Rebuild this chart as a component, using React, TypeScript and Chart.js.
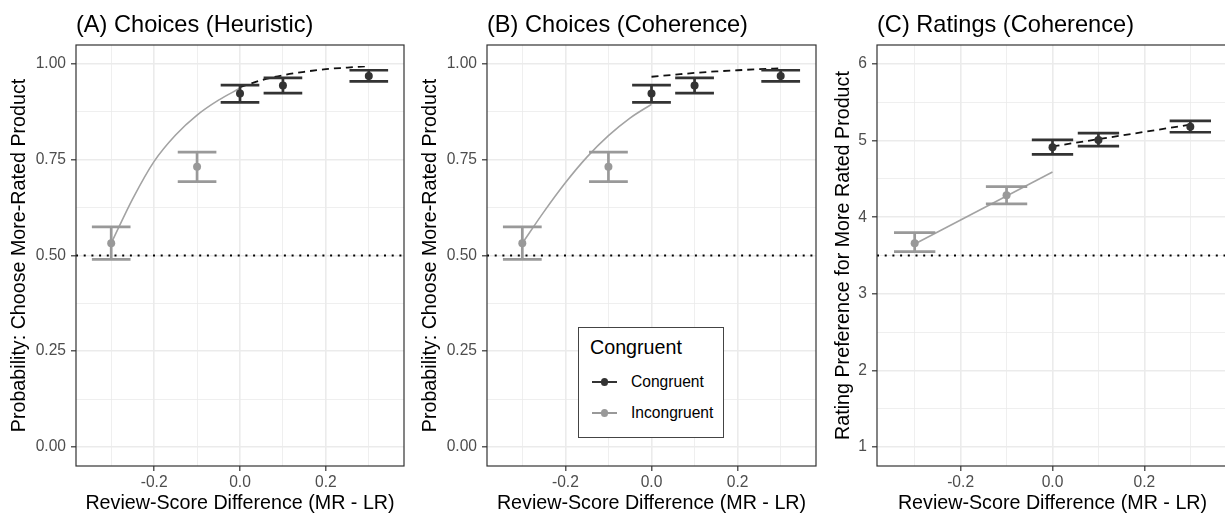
import React, { useEffect, useRef } from "react";
import { Chart, registerables } from "chart.js";
Chart.register(...registerables);

const FONT = "'Liberation Sans', Arial, Helvetica, sans-serif";

// ---------- axes ----------
const xMajorTicks = [-0.2, 0.0, 0.2];
const xMinorTicks = [-0.3, -0.1, 0.1, 0.3];
const xTickLabels = ["-0.2", "0.0", "0.2"];
const xLimits = [-0.382, 0.382];

const probMajorTicks = [0, 0.25, 0.5, 0.75, 1];
const probMinorTicks = [0.125, 0.375, 0.625, 0.875];
const probTickLabels = ["0.00", "0.25", "0.50", "0.75", "1.00"];
const probLimits = [-0.05, 1.05];
const probChance = 0.5;

const ratingMajorTicks = [1, 2, 3, 4, 5, 6];
const ratingMinorTicks = [1.5, 2.5, 3.5, 4.5, 5.5];
const ratingTickLabels = ["1", "2", "3", "4", "5", "6"];
const ratingLimits = [0.75, 6.25];
const ratingMidpoint = 3.5;

// ---------- observed means & intervals ----------
const incongruentX = [-0.3, -0.1];
const congruentX = [0.0, 0.1, 0.3];

const choiceIncMean = [0.532, 0.732];
const choiceIncLow = [0.49, 0.693];
const choiceIncHigh = [0.575, 0.77];
const choiceConMean = [0.923, 0.944, 0.969];
const choiceConLow = [0.9, 0.924, 0.955];
const choiceConHigh = [0.945, 0.964, 0.984];

const ratingIncMean = [3.66, 4.287];
const ratingIncLow = [3.55, 4.175];
const ratingIncHigh = [3.8, 4.4];
const ratingConMean = [4.914, 5.01, 5.183];
const ratingConLow = [4.82, 4.93, 5.11];
const ratingConHigh = [5.01, 5.1, 5.26];

// ---------- fitted curves ----------
const fitIncX = [-0.3, -0.25, -0.2, -0.15, -0.1, -0.05, 0.0];
const fitConX = [0.0, 0.05, 0.1, 0.15, 0.2, 0.25, 0.3];

const heurFitInc = [0.532, 0.648, 0.746, 0.815, 0.867, 0.906, 0.937];
const heurFitCon = [0.94, 0.958, 0.971, 0.98, 0.987, 0.991, 0.995];

const cohFitInc = [0.532, 0.614, 0.69, 0.757, 0.813, 0.859, 0.895];
const cohFitCon = [0.967, 0.972, 0.977, 0.981, 0.984, 0.987, 0.989];

const ratingFitIncX = [-0.3, 0.0];
const ratingFitInc = [3.65, 4.59];
const ratingFitConX = [0.0, 0.3];
const ratingFitCon = [4.925, 5.21];

const seriesNames = ["Congruent", "Incongruent"];

// ---------- styles ----------
const CON_COLOR = "#333333";
const INC_COLOR = "#999999";
const INC_FIT_COLOR = "#a3a3a3";
const CAP_HALF = 0.045;

const pts = (xs: number[], ys: number[]) => xs.map((x, i) => ({ x, y: ys[i] }));

function errorBarPoints(xs: number[], lo: number[], hi: number[]) {
  const out: any[] = [];
  xs.forEach((x, i) => {
    out.push(
      { x: x - CAP_HALF, y: hi[i] }, { x: x + CAP_HALF, y: hi[i] }, { x: x + CAP_HALF, y: null },
      { x, y: hi[i] }, { x, y: lo[i] }, { x, y: null },
      { x: x - CAP_HALF, y: lo[i] }, { x: x + CAP_HALF, y: lo[i] }, { x: x + CAP_HALF, y: null }
    );
  });
  return out;
}

const panelPlugin = {
  id: "panelDecor",
  afterDraw(chart: any, _args: any, opts: any) {
    const { ctx, chartArea: a } = chart;
    ctx.save();
    ctx.strokeStyle = "#333333";
    ctx.lineWidth = 1.2;
    ctx.strokeRect(a.left, a.top, a.right - a.left, a.bottom - a.top);
    ctx.fillStyle = "#000000";
    ctx.font = `23.6px ${FONT}`;
    ctx.textBaseline = "alphabetic";
    ctx.textAlign = "left";
    ctx.fillText(opts.title, a.left, 32);
    ctx.restore();
  },
};

type PanelSpec = {
  title: string;
  yTitle: string;
  yLimits: number[];
  yMajor: number[];
  yMinor: number[];
  yLabels: string[];
  refY: number;
  incMean: number[]; incLow: number[]; incHigh: number[];
  conMean: number[]; conLow: number[]; conHigh: number[];
  fitIncX: number[]; fitInc: number[];
  fitConX: number[]; fitCon: number[];
  smooth: boolean;
  yAxisWidth: number;
  yTitlePad: number;
  rightPad: number;
};

function gridOpts(major: number[]) {
  const isMajor = (v: number) => major.some((m) => Math.abs(m - v) < 1e-9);
  return {
    color: "#ebebeb",
    lineWidth: (c: any) => (c.tick && isMajor(c.tick.value) ? 1.6 : 0.8),
    tickColor: (c: any) => (c.tick && isMajor(c.tick.value) ? "#333333" : "rgba(0,0,0,0)"),
    tickWidth: 1.2,
    tickLength: 5,
    drawTicks: true,
  };
}

function makeConfig(s: PanelSpec): any {
  const yAll = [...s.yMajor, ...s.yMinor].sort((a, b) => a - b);
  const xAll = [...xMajorTicks, ...xMinorTicks].sort((a, b) => a - b);
  const labelFor = (major: number[], labels: string[]) => (v: number) => {
    const i = major.findIndex((m) => Math.abs(m - v) < 1e-9);
    return i >= 0 ? labels[i] : "";
  };
  const xLabel = labelFor(xMajorTicks, xTickLabels);
  const yLabel = labelFor(s.yMajor, s.yLabels);
  return {
    type: "line",
    data: {
      datasets: [
        {
          label: seriesNames[0] + " mean",
          data: pts(congruentX, s.conMean),
          showLine: false,
          pointRadius: 4,
          pointBackgroundColor: CON_COLOR,
          pointBorderWidth: 0,
          order: 0,
        },
        {
          label: seriesNames[1] + " mean",
          data: pts(incongruentX, s.incMean),
          showLine: false,
          pointRadius: 4,
          pointBackgroundColor: INC_COLOR,
          pointBorderWidth: 0,
          order: 1,
        },
        {
          label: seriesNames[0] + " CI",
          data: errorBarPoints(congruentX, s.conLow, s.conHigh),
          borderColor: CON_COLOR,
          borderWidth: 2.7,
          pointRadius: 0,
          spanGaps: false,
          borderCapStyle: "butt",
          order: 2,
        },
        {
          label: seriesNames[1] + " CI",
          data: errorBarPoints(incongruentX, s.incLow, s.incHigh),
          borderColor: INC_COLOR,
          borderWidth: 2.7,
          pointRadius: 0,
          spanGaps: false,
          borderCapStyle: "butt",
          order: 3,
        },
        {
          label: seriesNames[0] + " fit",
          data: pts(s.fitConX, s.fitCon),
          borderColor: "#111111",
          borderWidth: 1.8,
          borderDash: [7, 5],
          pointRadius: 0,
          cubicInterpolationMode: s.smooth ? "monotone" : "default",
          order: 4,
        },
        {
          label: seriesNames[1] + " fit",
          data: pts(s.fitIncX, s.fitInc),
          borderColor: INC_FIT_COLOR,
          borderWidth: 1.6,
          pointRadius: 0,
          cubicInterpolationMode: s.smooth ? "monotone" : "default",
          order: 5,
        },
        {
          label: "reference",
          data: [{ x: xLimits[0], y: s.refY }, { x: xLimits[1], y: s.refY }],
          borderColor: "#000000",
          borderWidth: 2,
          borderDash: [2, 5.7],
          borderCapStyle: "butt",
          pointRadius: 0,
          order: 6,
        },
      ],
    },
    options: {
      animation: false,
      responsive: false,
      events: [],
      layout: { padding: { left: 0, right: s.rightPad, top: 45, bottom: 0 } },
      plugins: {
        legend: { display: false },
        tooltip: { enabled: false },
        panelDecor: { title: s.title },
      },
      scales: {
        x: {
          type: "linear",
          min: xLimits[0],
          max: xLimits[1],
          afterBuildTicks: (sc: any) => {
            sc.ticks = xAll.map((v) => ({ value: v }));
          },
          afterFit: (sc: any) => {
            sc.height = 49;
          },
          grid: gridOpts(xMajorTicks),
          border: { display: false },
          ticks: {
            autoSkip: false,
            maxRotation: 0,
            padding: 2,
            color: "#4d4d4d",
            font: { family: FONT, size: 15.6 },
            callback: (v: any) => xLabel(Number(v)),
          },
          title: {
            display: true,
            text: "Review-Score Difference (MR - LR)",
            color: "#000000",
            font: { family: FONT, size: 19.7 },
            padding: { top: 0, bottom: 0 },
          },
        },
        y: {
          type: "linear",
          min: s.yLimits[0],
          max: s.yLimits[1],
          afterBuildTicks: (sc: any) => {
            sc.ticks = yAll.map((v) => ({ value: v }));
          },
          afterFit: (sc: any) => {
            sc.width = s.yAxisWidth;
          },
          grid: gridOpts(s.yMajor),
          border: { display: false },
          ticks: {
            autoSkip: false,
            padding: 5,
            color: "#4d4d4d",
            font: { family: FONT, size: 15.6 },
            callback: (v: any) => yLabel(Number(v)),
          },
          title: {
            display: true,
            text: s.yTitle,
            color: "#000000",
            font: { family: FONT, size: 19.7 },
            padding: { top: s.yTitlePad, bottom: 0 },
          },
        },
      },
    },
    plugins: [panelPlugin],
  };
}

const panels: { left: number; width: number; spec: PanelSpec }[] = [
  {
    left: 0,
    width: 410,
    spec: {
      title: "(A) Choices (Heuristic)",
      yTitle: "Probability: Choose More-Rated Product",
      yLimits: probLimits, yMajor: probMajorTicks, yMinor: probMinorTicks, yLabels: probTickLabels,
      refY: probChance,
      incMean: choiceIncMean, incLow: choiceIncLow, incHigh: choiceIncHigh,
      conMean: choiceConMean, conLow: choiceConLow, conHigh: choiceConHigh,
      fitIncX, fitInc: heurFitInc, fitConX, fitCon: heurFitCon,
      smooth: true, yAxisWidth: 76, yTitlePad: 8, rightPad: 6,
    },
  },
  {
    left: 410,
    width: 410,
    spec: {
      title: "(B) Choices (Coherence)",
      yTitle: "Probability: Choose More-Rated Product",
      yLimits: probLimits, yMajor: probMajorTicks, yMinor: probMinorTicks, yLabels: probTickLabels,
      refY: probChance,
      incMean: choiceIncMean, incLow: choiceIncLow, incHigh: choiceIncHigh,
      conMean: choiceConMean, conLow: choiceConLow, conHigh: choiceConHigh,
      fitIncX, fitInc: cohFitInc, fitConX, fitCon: cohFitCon,
      smooth: true, yAxisWidth: 77, yTitlePad: 9, rightPad: 4,
    },
  },
  {
    left: 815,
    width: 420,
    spec: {
      title: "(C) Ratings (Coherence)",
      yTitle: "Rating Preference for More Rated Product",
      yLimits: ratingLimits, yMajor: ratingMajorTicks, yMinor: ratingMinorTicks, yLabels: ratingTickLabels,
      refY: ratingMidpoint,
      incMean: ratingIncMean, incLow: ratingIncLow, incHigh: ratingIncHigh,
      conMean: ratingConMean, conLow: ratingConLow, conHigh: ratingConHigh,
      fitIncX: ratingFitIncX, fitInc: ratingFitInc, fitConX: ratingFitConX, fitCon: ratingFitCon,
      smooth: false, yAxisWidth: 62, yTitlePad: 17, rightPad: 7,
    },
  },
];

function Panel({ left, width, spec }: { left: number; width: number; spec: PanelSpec }) {
  const ref = useRef<HTMLCanvasElement | null>(null);
  useEffect(() => {
    if (!ref.current) return;
    const chart = new Chart(ref.current, makeConfig(spec));
    return () => chart.destroy();
  }, []);
  return (
    <canvas
      ref={ref}
      width={width}
      height={515}
      style={{ position: "absolute", left, top: 0, width, height: 515, display: "block" }}
    />
  );
}

function Legend() {
  const row = (name: string, color: string, top: number) => (
    <React.Fragment key={name}>
      <div style={{ position: "absolute", left: 12.7, top: top + 6.5, width: 25, height: 2.7, background: color }} />
      <div
        style={{
          position: "absolute", left: 21.5, top: top + 4, width: 7.6, height: 7.6,
          borderRadius: "50%", background: color,
        }}
      />
      <div style={{ position: "absolute", left: 52, top: top - 0.1, fontSize: 15.6, lineHeight: "16px", color: "#000", whiteSpace: "nowrap" }}>
        {name}
      </div>
    </React.Fragment>
  );
  return (
    <div
      style={{
        position: "absolute", left: 578, top: 327, width: 146, height: 111,
        border: "1px solid #444", boxSizing: "border-box", background: "#fff", fontFamily: FONT,
      }}
    >
      <div style={{ position: "absolute", left: 11, top: 8.9, fontSize: 19.7, lineHeight: "20px", color: "#000", whiteSpace: "nowrap" }}>
        Congruent
      </div>
      {row(seriesNames[0], CON_COLOR, 46)}
      {row(seriesNames[1], INC_COLOR, 77)}
    </div>
  );
}

export default function App() {
  return (
    <div
      style={{
        position: "fixed", left: 0, top: 0, width: 1225, height: 515,
        overflow: "hidden", background: "#ffffff",
      }}
    >
      {panels.map((p, i) => (
        <Panel key={i} left={p.left} width={p.width} spec={p.spec} />
      ))}
      <Legend />
    </div>
  );
}
